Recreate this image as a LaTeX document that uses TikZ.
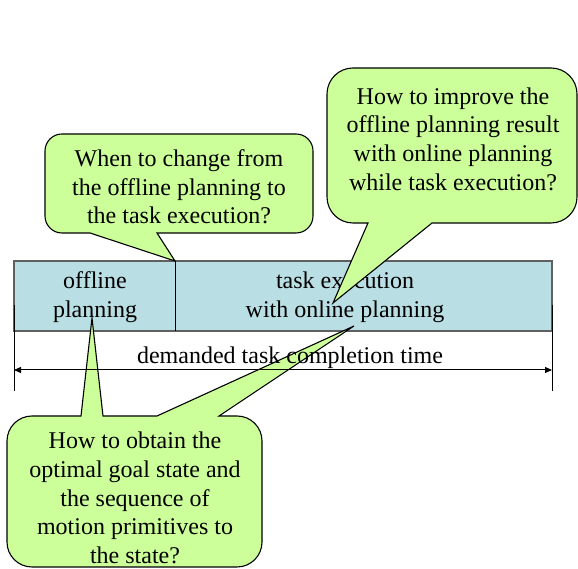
\documentclass[tikz,border=0pt]{standalone}
\usepackage{fontspec}
\setmainfont{Liberation Serif}
\usetikzlibrary{arrows.meta}
\definecolor{barfill}{RGB}{185,222,227}
\definecolor{barline}{RGB}{96,96,96}
\definecolor{callfill}{RGB}{204,255,153}
\tikzset{
  calloutshape/.style={fill=callfill,draw=black,line width=1.1pt,line join=miter},
  txt/.style={align=center,inner sep=0pt,font=\fontsize{24}{28.7}\selectfont},
  barbox/.style={fill=barfill,draw=barline,line width=1.6pt},
  dimline/.style={draw=black,line width=1pt},
}
\begin{document}
\begin{tikzpicture}[x=1pt,y=1pt]
\useasboundingbox (0,0) rectangle (578,569);
% time bar
\path[barbox] (14,238) rectangle (552,308);
\draw[line width=1pt] (175,238) -- (175,308);
\node[txt] (off) at (95,272) {offline\\planning};
\node[txt] (exe) at (345,272) {task execution\\with online planning};
% callout 1
\path[calloutshape] (90,336) -- (175,308) -- (157,336) -- (296,336)
  arc[start angle=-90,end angle=0,radius=17pt] -- (313,418)
  arc[start angle=0,end angle=90,radius=17pt] -- (62,435)
  arc[start angle=90,end angle=180,radius=17pt] -- (45,353)
  arc[start angle=180,end angle=270,radius=17pt] -- cycle;
\node[txt] (q1) at (179,382) {When to change from\\the offline planning to\\the task execution?};
% callout 2
\path[calloutshape] (368,346) -- (333,266) -- (432,346) -- (551,346)
  arc[start angle=-90,end angle=0,radius=26pt] -- (577,475)
  arc[start angle=0,end angle=90,radius=26pt] -- (353,501)
  arc[start angle=90,end angle=180,radius=26pt] -- (327,372)
  arc[start angle=180,end angle=270,radius=26pt] -- cycle;
\node[txt] (q2) at (453,430) {How to improve the\\offline planning result\\with online planning\\while task execution?};
% callout 3
\path[calloutshape] (7,27) -- (7,128)
  arc[start angle=180,end angle=90,radius=25pt] -- (81,153) -- (92,251) -- (103,153)
  -- (157,153) -- (354,243) -- (219,153) -- (237,153)
  arc[start angle=90,end angle=0,radius=25pt] -- (262,27)
  arc[start angle=0,end angle=-90,radius=25pt] -- (32,2)
  arc[start angle=270,end angle=180,radius=25pt] -- cycle;
\node[txt] (q3) at (135,71) {How to obtain the\\optimal goal state and\\the sequence of\\motion primitives to\\the state?};
% dimension
\coordinate (tl) at (14,264);
\coordinate (bl) at (14,178);
\coordinate (tr) at (552,264);
\coordinate (br) at (552,178);
\coordinate (al) at (14,199);
\coordinate (ar) at (552,199);
\draw[dimline] (tl) -- (bl);
\draw[dimline] (tr) -- (br);
\draw[dimline,{Triangle[length=7pt,width=6pt]}-{Triangle[length=7pt,width=6pt]}] (al) -- (ar);
\node[txt] (dim) at (290,211) {demanded task completion time};
\end{tikzpicture}
\end{document}
